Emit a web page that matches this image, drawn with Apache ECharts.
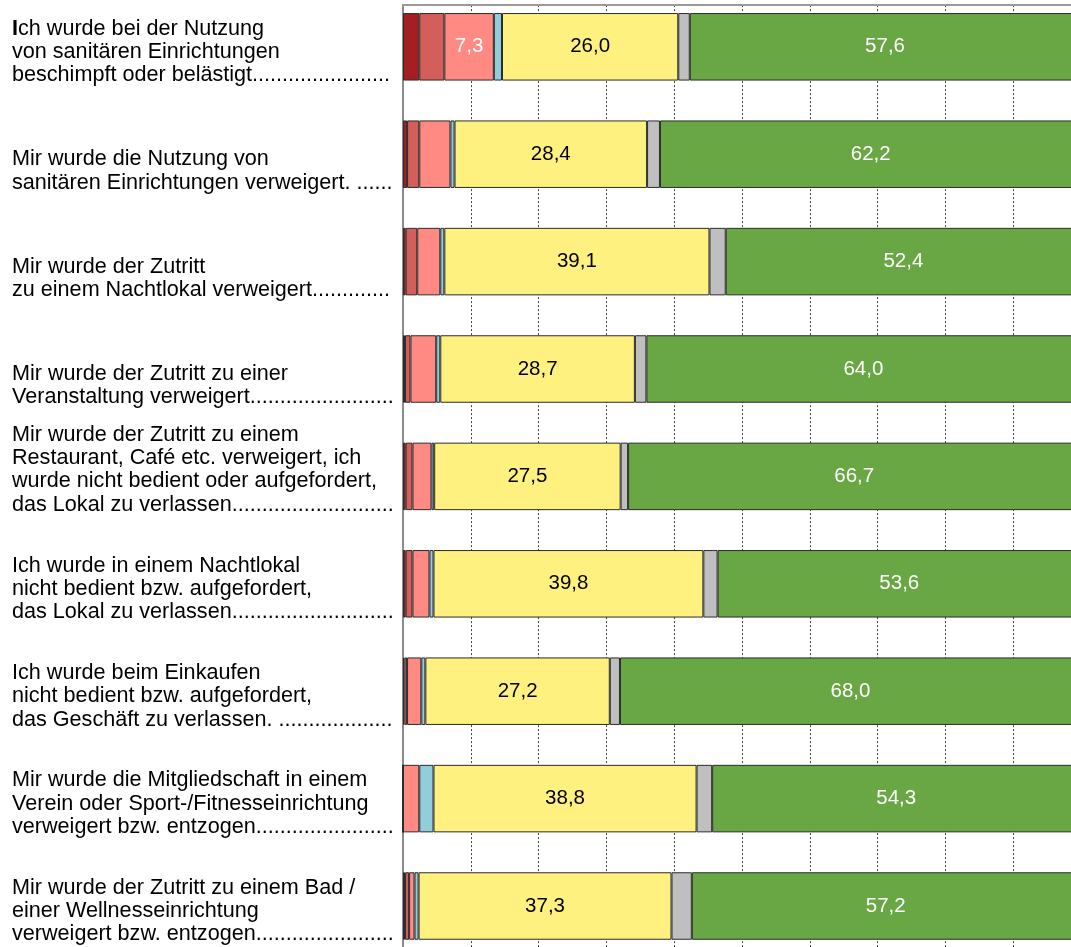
<!DOCTYPE html>
<html><head><meta charset="utf-8">
<script src="https://cdn.jsdelivr.net/npm/echarts@6/dist/echarts.min.js"></script>
<style>html,body{margin:0;padding:0;background:#fff;}#c{width:1071px;height:947px;}</style>
</head><body><div id="c"></div>
<script>
const categoryLines = [
  ["Ich wurde bei der Nutzung", "von sanitären Einrichtungen", "beschimpft oder belästigt"],
  ["Mir wurde die Nutzung von", "sanitären Einrichtungen verweigert. "],
  ["Mir wurde der Zutritt", "zu einem Nachtlokal verweigert"],
  ["Mir wurde der Zutritt zu einer", "Veranstaltung verweigert."],
  ["Mir wurde der Zutritt zu einem", "Restaurant, Café etc. verweigert, ich", "wurde nicht bedient oder aufgefordert,", "das Lokal zu verlassen."],
  ["Ich wurde in einem Nachtlokal", "nicht bedient bzw. aufgefordert,", "das Lokal zu verlassen."],
  ["Ich wurde beim Einkaufen", "nicht bedient bzw. aufgefordert,", "das Geschäft zu verlassen. "],
  ["Mir wurde die Mitgliedschaft in einem", "Verein oder Sport-/Fitnesseinrichtung", "verweigert bzw. entzogen"],
  ["Mir wurde der Zutritt zu einem Bad /", "einer Wellnesseinrichtung", "verweigert bzw. entzogen"]
];
const seriesNames = ["Segment 1", "Segment 2", "Segment 3", "Segment 4", "Segment 5", "Segment 6", "Segment 7"];
const darkRed = [2.4, 0.6, 0.4, 0.3, 0.4, 0.4, 0.2, 0, 0.3];
const red     = [3.7, 1.8, 1.7, 0.8, 1.0, 1.0, 0.4, 0, 0.6];
const salmon  = [7.3, 4.6, 3.4, 3.8, 2.8, 2.5, 2.1, 2.4, 0.8];
const blue    = [1.2, 0.6, 0.6, 0.6, 0.4, 0.6, 0.6, 2.1, 0.6];
const yellow  = [26.0, 28.4, 39.1, 28.7, 27.5, 39.8, 27.2, 38.8, 37.3];
const gray    = [1.7, 1.9, 2.4, 1.7, 1.1, 2.1, 1.5, 2.3, 3.0];
const green   = [57.6, 62.2, 52.4, 64.0, 66.7, 53.6, 68.0, 54.3, 57.2];

const FONT = '"Liberation Sans", Arial, sans-serif';
const LABEL_SIZE = 21.6;
const cv = document.createElement('canvas').getContext('2d');
cv.font = LABEL_SIZE + 'px ' + FONT;
function withDots(line, target) {
  let s = line;
  while (cv.measureText(s + '.').width <= target) s += '.';
  return s;
}
const categories = categoryLines.map(lines => {
  const l = lines.slice();
  l[l.length - 1] = withDots(l[l.length - 1], 383);
  return l.join('\n');
});

const colors = ['#A51F22', '#D35E5A', '#FF8A83', '#92CDDC', '#FFF17F', '#BFBFBF', '#69A745'];
const labelColors = ['#fff', '#fff', '#fff', '#000', '#000', '#000', '#fff'];
const data = [darkRed, red, salmon, blue, yellow, gray, green];

const chart = echarts.init(document.getElementById('c'), null, {renderer: 'canvas'});
chart.setOption({
  animation: false,
  backgroundColor: '#fff',
  grid: {left: 403, right: -10, top: -6.9, bottom: -12.7, containLabel: false, outerBoundsMode: 'none'},
  xAxis: {
    type: 'value', min: 0, max: 100, interval: 10,
    axisLine: {show: false}, axisTick: {show: false}, axisLabel: {show: false},
    splitLine: {show: true, lineStyle: {color: '#444', type: [2, 2], width: 1}}
  },
  yAxis: {
    type: 'category', inverse: true, data: categories,
    axisLine: {show: true, lineStyle: {color: '#8c8c8c', width: 2}},
    axisTick: {show: false},
    axisLabel: {
      interval: 0, align: 'left', margin: 391, verticalAlign: 'bottom',
      padding: [0, 0, -40, 0], lineHeight: 23.3,
      fontFamily: FONT, fontSize: LABEL_SIZE, color: '#000',
      formatter: function (v, i) {
        if (i === 0) return '{b|I}{n|' + v.slice(1).split('\n').join('}\n{n|') + '}';
        return v;
      },
      rich: {
        b: {fontWeight: 'bold', fontFamily: FONT, fontSize: LABEL_SIZE, lineHeight: 23.3, color: '#000'},
        n: {fontFamily: FONT, fontSize: LABEL_SIZE, lineHeight: 23.3, color: '#000'}
      }
    }
  },
  series: data.map((d, k) => ({
    name: seriesNames[k], type: 'bar', stack: 'total', data: d, barWidth: 67.5,
    itemStyle: {color: colors[k], borderColor: '#2b2b2b', borderWidth: 1},
    label: {
      show: true, position: 'inside', fontFamily: FONT, fontSize: 20.5, color: labelColors[k],
      formatter: p => p.value >= 5 ? p.value.toFixed(1).replace('.', ',') : ''
    }
  })),
  graphic: [
    {type: 'rect', z: 100, shape: {x: 402, y: 0, width: 669, height: 4}, style: {fill: '#fff'}},
    {type: 'line', z: 101, shape: {x1: 402, y1: 5, x2: 1071, y2: 5}, style: {stroke: '#9a9a9a', lineWidth: 2}}
  ]
});
</script>
</body></html>
